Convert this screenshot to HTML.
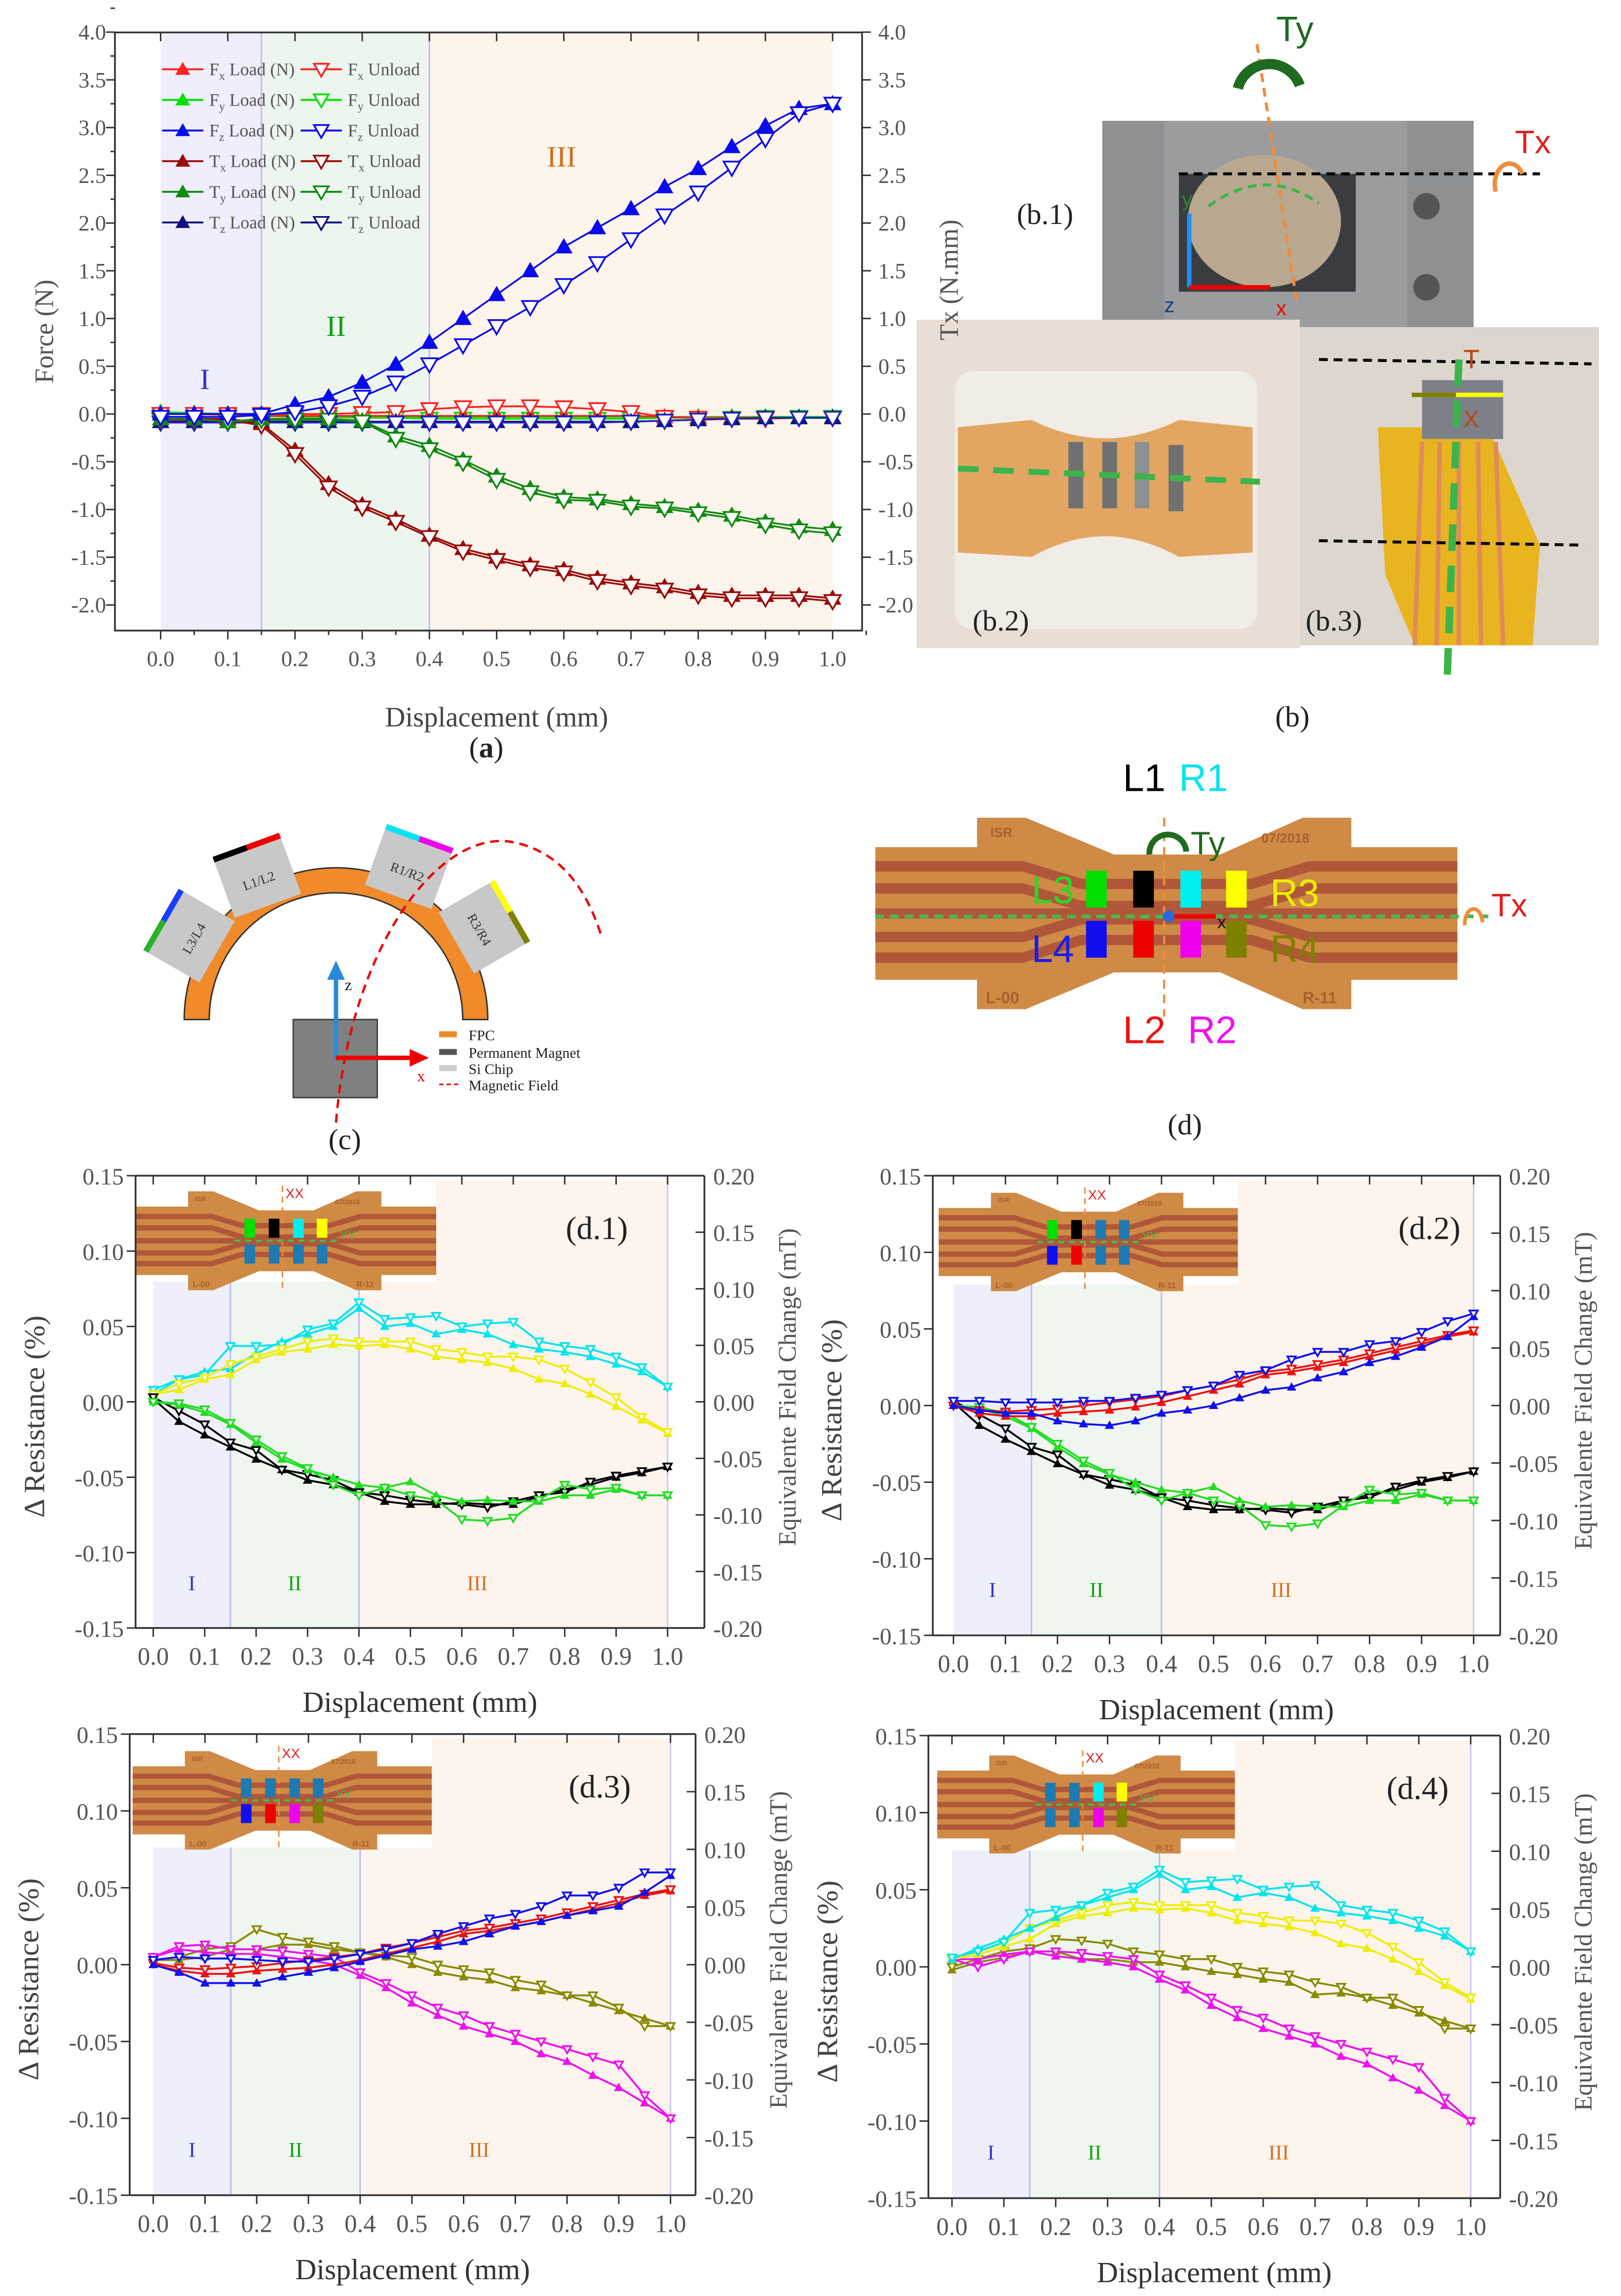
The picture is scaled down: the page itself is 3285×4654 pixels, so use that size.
<!DOCTYPE html>
<html><head><meta charset="utf-8"><title>Force and resistance figure</title>
<style>
html,body{margin:0;padding:0;background:#fff;}
svg{display:block;}
text{font-family:"Liberation Serif",serif;}
.sans{font-family:"Liberation Sans",sans-serif;}
</style></head>
<body>
<svg id="fig" xmlns="http://www.w3.org/2000/svg" width="3285" height="4654" viewBox="0 0 1100 1558.4">
<rect x="0" y="0" width="1100" height="1558.4" fill="#fff"/>

<g>
  <rect x="748" y="82" width="252" height="140" fill="#8e9092"/>
  <rect x="790" y="82" width="165" height="140" fill="#9a9c9e"/>
  <rect x="800" y="118" width="120" height="80" fill="#3a3c40"/>
  <ellipse cx="858" cy="150" rx="52" ry="45" fill="#b8a890"/>
  <circle cx="968" cy="140" r="9" fill="#555"/>
  <circle cx="968" cy="195" r="9" fill="#555"/>
  <line x1="800" y1="118" x2="1045" y2="118" stroke="#000" stroke-width="2" stroke-dasharray="6,4"/>
  <path d="M820,140 Q858,112 895,138" fill="none" stroke="#3cb44a" stroke-width="2" stroke-dasharray="6,4"/>
  <line x1="853" y1="30" x2="880" y2="205" stroke="#f08c3c" stroke-width="2" stroke-dasharray="6,4"/>
  <line x1="807" y1="195" x2="807" y2="145" stroke="#1e90ff" stroke-width="3"/>
  <line x1="807" y1="195" x2="862" y2="195" stroke="#e00" stroke-width="3"/>
  <text x="790" y="212" font-size="14" fill="#1a3c8c" class="sans">z</text>
  <text x="866" y="214" font-size="14" fill="#e00" class="sans">x</text>
  <text x="802" y="140" font-size="14" fill="#2a8a2a" class="sans">y</text>
  <path d="M840,60 A22,22 0 0 1 882,58" fill="none" stroke="#1f6b1f" stroke-width="7"/>
  <text x="866" y="28" font-size="24" fill="#1f6b1f" class="sans">Ty</text>
  <path d="M1015,130 A10,14 0 0 1 1033,118" fill="none" stroke="#f08c3c" stroke-width="3"/>
  <text x="1028" y="104" font-size="22" fill="#e02020" class="sans">Tx</text>
  <text x="690" y="152" font-size="20" fill="#222">(b.1)</text>

  <rect x="622" y="217" width="260" height="223" fill="#e8ded6"/>
  <rect x="648" y="252" width="205" height="175" rx="12" fill="#f2ece6"/>
  <path d="M650,290 L700,285 Q750,310 800,285 L850,290 L850,375 L800,378 Q750,350 700,378 L650,375 Z" fill="#e3a662"/>
  <rect x="725" y="300" width="10" height="45" fill="#6f7070"/>
  <rect x="748" y="300" width="10" height="45" fill="#6f7070"/>
  <rect x="770" y="300" width="10" height="45" fill="#8d9090"/>
  <rect x="793" y="302" width="10" height="45" fill="#6f7070"/>
  <line x1="650" y1="318" x2="855" y2="327" stroke="#3cb44a" stroke-width="4" stroke-dasharray="14,10"/>
  <text x="660" y="428" font-size="20" fill="#222">(b.2)</text>

  <rect x="882" y="222" width="203" height="216" fill="#dcd6ce"/>
  <path d="M935,290 L1010,290 L1045,370 L1040,438 L960,438 L940,390 Z" fill="#e8b420"/>
  <rect x="965" y="258" width="55" height="40" fill="#7d8088"/>
  <g stroke="#e08a5a" stroke-width="3">
    <line x1="965" y1="300" x2="960" y2="438"/><line x1="977" y1="300" x2="975" y2="438"/><line x1="990" y1="300" x2="990" y2="438"/><line x1="1003" y1="300" x2="1005" y2="438"/><line x1="1015" y1="300" x2="1020" y2="438"/>
  </g>
  <line x1="895" y1="244" x2="1080" y2="247" stroke="#000" stroke-width="2" stroke-dasharray="6,4"/>
  <line x1="895" y1="367" x2="1075" y2="370" stroke="#000" stroke-width="2" stroke-dasharray="6,4"/>
  <line x1="990" y1="244" x2="982" y2="462" stroke="#3cb44a" stroke-width="5" stroke-dasharray="18,10"/>
  <line x1="958" y1="268" x2="1020" y2="268" stroke="#ffff00" stroke-width="3"/>
  <line x1="958" y1="268" x2="988" y2="268" stroke="#7f7f00" stroke-width="3"/>
  <text x="993" y="250" font-size="18" fill="#b04a10" class="sans">T</text>
  <text x="993" y="290" font-size="16" fill="#b04a10" class="sans">X</text>
  <text x="886" y="428" font-size="20" fill="#222">(b.3)</text>
  <text x="877" y="493" font-size="20" fill="#222" text-anchor="middle">(b)</text>
</g>

<text x="330" y="514" font-size="20" fill="#222" text-anchor="middle">(<tspan font-weight="bold">a</tspan>)</text>

<g>
  <path d="M125,692 A103,103 0 0 1 331,692 L314,692 A86,86 0 0 0 142,692 Z" fill="#f08a2a" stroke="#333" stroke-width="1"/>
  <g transform="translate(130,636) rotate(-60)"><rect x="-24" y="-20" width="48" height="40" fill="#c8c8c8"/><rect x="-24" y="-24" width="24" height="4" fill="#2ab02a"/><rect x="0" y="-24" width="24" height="4" fill="#1a3cff"/><text x="0" y="5" font-size="9" text-anchor="middle" fill="#333">L3/L4</text></g>
  <g transform="translate(175,596) rotate(-20)"><rect x="-24" y="-20" width="48" height="40" fill="#c8c8c8"/><rect x="-24" y="-24" width="24" height="4" fill="#000"/><rect x="0" y="-24" width="24" height="4" fill="#e00"/><text x="0" y="5" font-size="9" text-anchor="middle" fill="#333">L1/L2</text></g>
  <g transform="translate(277,590) rotate(20)"><rect x="-24" y="-20" width="48" height="40" fill="#c8c8c8"/><rect x="-24" y="-24" width="24" height="4" fill="#00e5ee"/><rect x="0" y="-24" width="24" height="4" fill="#e0e"/><text x="0" y="5" font-size="9" text-anchor="middle" fill="#333">R1/R2</text></g>
  <g transform="translate(327,630) rotate(60)"><rect x="-24" y="-20" width="48" height="40" fill="#c8c8c8"/><rect x="-24" y="-24" width="24" height="4" fill="#ffff00"/><rect x="0" y="-24" width="24" height="4" fill="#7f7f00"/><text x="0" y="5" font-size="9" text-anchor="middle" fill="#333">R3/R4</text></g>
  <rect x="199" y="692" width="57" height="53" fill="#808080" stroke="#444"/>
  <path d="M228,762 C238,640 300,560 350,572 C385,580 400,610 408,635" fill="none" stroke="#e00" stroke-width="1.6" stroke-dasharray="6,4"/>
  <line x1="228" y1="718" x2="228" y2="662" stroke="#2a8ad8" stroke-width="3"/>
  <path d="M222,665 L228,652 L234,665 Z" fill="#2a8ad8"/>
  <text x="234" y="672" font-size="11" fill="#222">z</text>
  <line x1="228" y1="718" x2="280" y2="718" stroke="#e00" stroke-width="3"/>
  <path d="M278,712 L291,718 L278,724 Z" fill="#e00"/>
  <text x="283" y="734" font-size="11" fill="#e00">x</text>
  <g font-size="10" fill="#222">
    <rect x="298" y="700" width="12" height="4" fill="#f08a2a"/><text x="318" y="706">FPC</text>
    <rect x="298" y="712" width="12" height="4" fill="#555"/><text x="318" y="718">Permanent Magnet</text>
    <rect x="298" y="723" width="12" height="4" fill="#ccc"/><text x="318" y="729">Si Chip</text>
    <line x1="298" y1="736" x2="312" y2="736" stroke="#e00" stroke-dasharray="3,2"/><text x="318" y="740">Magnetic Field</text>
  </g>
  <text x="234" y="780" font-size="20" fill="#222" text-anchor="middle">(c)</text>
</g>

<g>
  <g id="fpcBig"></g>
  <line x1="790" y1="555" x2="790" y2="690" stroke="#f08c3c" stroke-width="1.5" stroke-dasharray="6,4"/>
  <line x1="594" y1="622" x2="1010" y2="622" stroke="#4ab84a" stroke-width="2.5" stroke-dasharray="6,4"/>
  <path d="M780,580 A12,12 0 0 1 805,578" fill="none" stroke="#1f6b1f" stroke-width="4"/>
  <text x="808" y="580" font-size="22" fill="#1f6b1f" class="sans">Ty</text>
  <path d="M994,628 A6,10 0 0 1 1006,626" fill="none" stroke="#f08c3c" stroke-width="2.5"/>
  <text x="1012" y="622" font-size="22" fill="#e02020" class="sans">Tx</text>
  <line x1="793" y1="622" x2="825" y2="622" stroke="#e00" stroke-width="3"/>
  <circle cx="793" cy="622" r="4" fill="#2a6ad8"/>
  <text x="826" y="630" font-size="12" fill="#111" class="sans">x</text>
  <text x="762" y="537" font-size="26" fill="#000" class="sans">L1</text>
  <text x="800" y="537" font-size="26" fill="#00e5ee" class="sans">R1</text>
  <text x="700" y="613" font-size="26" fill="#22dd22" class="sans">L3</text>
  <text x="700" y="653" font-size="26" fill="#1a1aee" class="sans">L4</text>
  <text x="862" y="615" font-size="26" fill="#eeee00" class="sans">R3</text>
  <text x="862" y="653" font-size="26" fill="#7f7f00" class="sans">R4</text>
  <text x="762" y="708" font-size="26" fill="#ee1111" class="sans">L2</text>
  <text x="806" y="708" font-size="26" fill="#ee11ee" class="sans">R2</text>
  <text x="804" y="770" font-size="20" fill="#222" text-anchor="middle">(d)</text>
</g>

<g id="charts"></g>
</svg>

<script>
const aX = [0,0.05,0.1,0.15,0.2,0.25,0.3,0.35,0.4,0.45,0.5,0.55,0.6,0.65,0.7,0.75,0.8,0.85,0.9,0.95,1.0];
const aFxLoad = [0,0,-0.01,-0.02,-0.02,-0.02,-0.02,-0.02,-0.02,-0.02,-0.02,-0.02,-0.02,-0.02,-0.02,-0.03,-0.04,-0.04,-0.04,-0.04,-0.04];
const aFxUnload = [0,0,0,0,0,0,0.01,0.02,0.05,0.07,0.08,0.08,0.07,0.05,0.02,-0.03,-0.04,-0.05,-0.05,-0.04,-0.04];
const aFyLoad = [0.02,0.01,0,-0.01,-0.02,-0.02,-0.03,-0.03,-0.03,-0.03,-0.03,-0.03,-0.03,-0.03,-0.03,-0.03,-0.03,-0.03,-0.03,-0.03,-0.03];
const aFyUnload = [0,0,-0.01,-0.02,-0.03,-0.03,-0.04,-0.04,-0.05,-0.05,-0.05,-0.05,-0.05,-0.05,-0.05,-0.04,-0.04,-0.04,-0.03,-0.03,-0.03];
const aFzLoad = [0,0,0,0,0.1,0.18,0.33,0.52,0.75,1.0,1.25,1.5,1.75,1.95,2.15,2.38,2.57,2.8,3.02,3.2,3.25];
const aFzUnload = [-0.03,-0.03,-0.03,-0.01,0.02,0.08,0.18,0.33,0.52,0.72,0.92,1.12,1.35,1.58,1.83,2.08,2.32,2.58,2.88,3.15,3.25];
const aTxLoad = [-0.05,-0.05,-0.05,-0.1,-0.38,-0.73,-0.95,-1.1,-1.27,-1.41,-1.5,-1.58,-1.63,-1.72,-1.77,-1.81,-1.87,-1.9,-1.9,-1.9,-1.93];
const aTxUnload = [-0.06,-0.06,-0.06,-0.12,-0.42,-0.77,-0.98,-1.13,-1.29,-1.44,-1.53,-1.61,-1.66,-1.75,-1.8,-1.84,-1.9,-1.93,-1.93,-1.93,-1.96];
const aTyLoad = [-0.05,-0.05,-0.08,-0.05,-0.05,-0.05,-0.07,-0.23,-0.33,-0.48,-0.65,-0.78,-0.87,-0.89,-0.94,-0.97,-1.01,-1.06,-1.13,-1.18,-1.21];
const aTyUnload = [-0.05,-0.05,-0.08,-0.06,-0.06,-0.06,-0.08,-0.26,-0.37,-0.51,-0.69,-0.82,-0.9,-0.91,-0.97,-0.99,-1.04,-1.09,-1.16,-1.22,-1.25];
const aTzLoad = [-0.08,-0.08,-0.08,-0.08,-0.08,-0.08,-0.08,-0.08,-0.08,-0.08,-0.08,-0.08,-0.08,-0.08,-0.08,-0.07,-0.06,-0.05,-0.04,-0.04,-0.04];
const aTzUnload = [-0.09,-0.09,-0.09,-0.09,-0.09,-0.09,-0.09,-0.09,-0.09,-0.09,-0.09,-0.09,-0.09,-0.09,-0.08,-0.07,-0.06,-0.05,-0.04,-0.04,-0.04];
const aXTicks = ['0.0','0.1','0.2','0.3','0.4','0.5','0.6','0.7','0.8','0.9','1.0'];
const aYTicks = ['-2.0','-1.5','-1.0','-0.5','0.0','0.5','1.0','1.5','2.0','2.5','3.0','3.5','4.0'];

const dX = [0,0.05,0.1,0.15,0.2,0.25,0.3,0.35,0.4,0.45,0.5,0.55,0.6,0.65,0.7,0.75,0.8,0.85,0.9,0.95,1.0];
const dXTicks = ['0.0','0.1','0.2','0.3','0.4','0.5','0.6','0.7','0.8','0.9','1.0'];
const dYTicks = ['-0.15','-0.10','-0.05','0.00','0.05','0.10','0.15'];
const dY2Ticks = ['-0.20','-0.15','-0.10','-0.05','0.00','0.05','0.10','0.15','0.20'];
const d1CyanLoad = [0.005,0.015,0.02,0.022,0.032,0.04,0.045,0.05,0.062,0.05,0.052,0.045,0.048,0.045,0.038,0.035,0.033,0.03,0.025,0.02,0.01];
const d1CyanUnload = [0.008,0.015,0.018,0.037,0.037,0.038,0.048,0.052,0.066,0.055,0.056,0.057,0.05,0.052,0.053,0.04,0.037,0.035,0.03,0.023,0.01];
const d1YellowLoad = [0.005,0.008,0.015,0.018,0.028,0.033,0.035,0.038,0.037,0.038,0.035,0.03,0.028,0.026,0.022,0.015,0.012,0.005,-0.003,-0.012,-0.021];
const d1YellowUnload = [0.005,0.012,0.016,0.025,0.03,0.035,0.04,0.042,0.04,0.04,0.04,0.035,0.033,0.03,0.03,0.028,0.022,0.013,0.003,-0.01,-0.02];
const d1BlackLoad = [0.002,-0.013,-0.022,-0.03,-0.038,-0.045,-0.052,-0.055,-0.06,-0.066,-0.068,-0.068,-0.067,-0.068,-0.068,-0.063,-0.058,-0.055,-0.05,-0.047,-0.043];
const d1BlackUnload = [0.003,-0.006,-0.015,-0.027,-0.032,-0.045,-0.048,-0.052,-0.06,-0.062,-0.065,-0.067,-0.068,-0.07,-0.066,-0.062,-0.06,-0.053,-0.049,-0.046,-0.043];
const d1GreenLoad = [0,-0.002,-0.007,-0.015,-0.027,-0.038,-0.045,-0.05,-0.055,-0.057,-0.053,-0.062,-0.066,-0.065,-0.066,-0.066,-0.062,-0.062,-0.058,-0.062,-0.062];
const d1GreenUnload = [0,-0.001,-0.005,-0.014,-0.025,-0.036,-0.044,-0.055,-0.062,-0.057,-0.062,-0.065,-0.078,-0.079,-0.077,-0.065,-0.055,-0.058,-0.057,-0.062,-0.062];
const d2BlueLoad = [0,-0.003,-0.005,-0.005,-0.01,-0.012,-0.013,-0.01,-0.005,-0.003,0,0.005,0.01,0.012,0.018,0.022,0.028,0.032,0.038,0.045,0.058];
const d2BlueUnload = [0.003,0.003,0.002,0.002,0.002,0.003,0.003,0.005,0.007,0.01,0.013,0.02,0.023,0.03,0.035,0.035,0.04,0.042,0.048,0.055,0.06];
const d2RedLoad = [0,-0.005,-0.007,-0.007,-0.005,-0.004,-0.003,-0.001,0.002,0.006,0.01,0.014,0.02,0.022,0.025,0.028,0.032,0.036,0.04,0.045,0.048];
const d2RedUnload = [0,-0.003,-0.004,-0.003,-0.002,0,0.002,0.004,0.006,0.01,0.013,0.017,0.022,0.024,0.027,0.03,0.034,0.038,0.042,0.046,0.049];
const d2BlackLoad = [0.002,-0.013,-0.022,-0.03,-0.038,-0.045,-0.052,-0.055,-0.06,-0.066,-0.068,-0.068,-0.067,-0.068,-0.068,-0.063,-0.058,-0.055,-0.05,-0.047,-0.043];
const d2BlackUnload = [0.003,-0.006,-0.015,-0.027,-0.032,-0.045,-0.048,-0.052,-0.06,-0.062,-0.065,-0.067,-0.068,-0.07,-0.066,-0.062,-0.06,-0.053,-0.049,-0.046,-0.043];
const d2GreenLoad = [0,-0.002,-0.007,-0.015,-0.027,-0.038,-0.045,-0.05,-0.055,-0.057,-0.053,-0.062,-0.066,-0.065,-0.066,-0.066,-0.062,-0.062,-0.058,-0.062,-0.062];
const d2GreenUnload = [0,-0.001,-0.005,-0.014,-0.025,-0.036,-0.044,-0.055,-0.062,-0.057,-0.062,-0.065,-0.078,-0.079,-0.077,-0.065,-0.055,-0.058,-0.057,-0.062,-0.062];
const d3BlueLoad = [0,-0.005,-0.012,-0.012,-0.012,-0.008,-0.005,-0.002,0.002,0.006,0.01,0.012,0.015,0.02,0.025,0.028,0.032,0.035,0.038,0.047,0.058];
const d3BlueUnload = [0.003,0.005,0.004,0.004,0.003,0.002,0.002,0.004,0.007,0.01,0.014,0.02,0.025,0.03,0.033,0.038,0.045,0.045,0.05,0.06,0.06];
const d3RedLoad = [0,-0.004,-0.006,-0.006,-0.004,-0.003,-0.002,0,0.003,0.007,0.011,0.015,0.02,0.022,0.025,0.028,0.032,0.036,0.04,0.045,0.048];
const d3RedUnload = [0.001,-0.002,-0.003,-0.002,-0.001,0.001,0.003,0.005,0.007,0.011,0.014,0.018,0.022,0.024,0.027,0.03,0.034,0.038,0.042,0.046,0.049];
const d3MagentaLoad = [0.005,0.01,0.008,0.007,0.007,0.005,0.003,0,-0.007,-0.015,-0.025,-0.033,-0.04,-0.045,-0.05,-0.058,-0.063,-0.072,-0.08,-0.09,-0.1];
const d3MagentaUnload = [0.005,0.012,0.013,0.01,0.01,0.009,0.007,0.005,-0.005,-0.012,-0.02,-0.028,-0.033,-0.04,-0.045,-0.05,-0.055,-0.06,-0.065,-0.085,-0.1];
const d3OliveLoad = [0.003,0.003,0.005,0.01,0.01,0.013,0.013,0.01,0.008,0.005,0,-0.005,-0.008,-0.01,-0.015,-0.017,-0.02,-0.025,-0.03,-0.035,-0.04];
const d3OliveUnload = [0.003,0.005,0.01,0.012,0.023,0.018,0.015,0.012,0.008,0.006,0.005,0,-0.003,-0.005,-0.01,-0.013,-0.02,-0.02,-0.028,-0.04,-0.04];
const d4CyanLoad = [0.005,0.012,0.018,0.025,0.032,0.04,0.045,0.05,0.06,0.05,0.052,0.045,0.048,0.045,0.038,0.035,0.033,0.03,0.025,0.02,0.01];
const d4CyanUnload = [0.006,0.01,0.016,0.035,0.037,0.04,0.048,0.052,0.063,0.055,0.056,0.057,0.05,0.052,0.053,0.04,0.037,0.035,0.03,0.023,0.01];
const d4YellowLoad = [0.005,0.008,0.013,0.018,0.028,0.033,0.035,0.038,0.037,0.038,0.035,0.03,0.028,0.026,0.022,0.015,0.012,0.005,-0.003,-0.012,-0.021];
const d4YellowUnload = [0.005,0.01,0.015,0.025,0.03,0.035,0.04,0.042,0.04,0.04,0.04,0.035,0.033,0.03,0.03,0.028,0.022,0.013,0.003,-0.01,-0.02];
const d4MagentaLoad = [0.005,0.005,0.008,0.01,0.007,0.005,0.003,0,-0.008,-0.015,-0.025,-0.033,-0.04,-0.045,-0.05,-0.058,-0.063,-0.072,-0.08,-0.09,-0.1];
const d4MagentaUnload = [0.005,0,0.005,0.01,0.01,0.009,0.007,0.005,-0.005,-0.012,-0.02,-0.028,-0.033,-0.04,-0.045,-0.05,-0.055,-0.06,-0.065,-0.085,-0.1];
const d4OliveLoad = [-0.002,0.003,0.006,0.01,0.01,0.005,0.005,0.003,0.003,0,-0.003,-0.005,-0.008,-0.01,-0.018,-0.017,-0.02,-0.025,-0.03,-0.035,-0.04];
const d4OliveUnload = [0,0.005,0.01,0.012,0.018,0.017,0.015,0.01,0.008,0.005,0.005,0,-0.003,-0.005,-0.01,-0.013,-0.02,-0.02,-0.028,-0.04,-0.04];

const NS = 'http://www.w3.org/2000/svg';
function mk(tag, attrs, parent, name, inter) {
  const e = document.createElementNS(NS, tag);
  for (const k in attrs) e.setAttribute(k, attrs[k]);
  
  
  parent.appendChild(e);
  return e;
}
function mkText(str, attrs, parent, name) {
  const t = mk('text', attrs, parent, name, false);
  t.textContent = str;
  return t;
}

function drawFPC(parent, tx, ty, s, chips, small) {
  const g = mk('g', {transform: 'translate(' + tx + ',' + ty + ') scale(' + s + ')'}, parent, 'fpc-board', false);
  const shape = '0,27 69,27 69,7 102,7 162,32 234,32 290,7 323,7 323,27 395,27 395,117 323,117 323,137 290,137 234,112 162,112 102,137 69,137 69,117 0,117';
  mk('polygon', {points: shape, fill: '#cf8a45'}, g, 'fpc-body', false);
  const ys = [40, 55, 88, 102];
  ys.forEach(function (y) {
    const inner = y < 72 ? y + 12 : y - 12;
    mk('polyline', {points: '0,' + y + ' 100,' + y + ' 140,' + inner + ' 255,' + inner + ' 295,' + y + ' 395,' + y, fill: 'none', stroke: '#b0573a', 'stroke-width': 7}, g, 'fpc-trace', false);
  });
  mk('line', {x1: 0, y1: 72, x2: 395, y2: 72, stroke: '#b0573a', 'stroke-width': 7}, g, 'fpc-trace', false);
  mkText('ISR', {x: 78, y: 20, 'font-size': 9, fill: '#a8602c', class: 'sans', 'font-weight': 'bold'}, g, 'fpc-text');
  mkText('07/2018', {x: 262, y: 24, 'font-size': 9, fill: '#a8602c', class: 'sans', 'font-weight': 'bold'}, g, 'fpc-text');
  mkText('L-00', {x: 75, y: 133, 'font-size': 11, fill: '#a8602c', class: 'sans', 'font-weight': 'bold'}, g, 'fpc-text');
  mkText('R-11', {x: 290, y: 133, 'font-size': 11, fill: '#a8602c', class: 'sans', 'font-weight': 'bold'}, g, 'fpc-text');
  const cx = [143, 175, 207, 238];
  for (let i = 0; i < 4; i++) {
    mk('rect', {x: cx[i], y: 43, width: 14, height: 25, fill: chips[i]}, g, 'sensor-chip', false);
    mk('rect', {x: cx[i], y: 77, width: 14, height: 25, fill: chips[i + 4]}, g, 'sensor-chip', false);
  }
  if (small) {
    mk('line', {x1: 193, y1: 0, x2: 193, y2: 140, stroke: '#f08c3c', 'stroke-width': 2, 'stroke-dasharray': '8,6'}, g, 'inset-orange-dash', false);
    mk('line', {x1: 130, y1: 72, x2: 265, y2: 72, stroke: '#4ab84a', 'stroke-width': 3, 'stroke-dasharray': '8,6'}, g, 'inset-green-dash', false);
    mkText('XX', {x: 197, y: 16, 'font-size': 18, fill: '#e02020', class: 'sans'}, g, 'inset-xx-label');
    mkText('YY', {x: 268, y: 70, 'font-size': 16, fill: '#4ab84a', class: 'sans'}, g, 'inset-yy-label');
  }
  return g;
}
drawFPC(document.getElementById('fpcBig'), 594, 548, 1, ['#00e000', '#000', '#00eeee', '#ffff00', '#1010ee', '#ee0000', '#ee00ee', '#7f7f00'], false);

const charts = document.getElementById('charts');

function markerPath(x, y, s, up) {
  if (up) return 'M' + x + ',' + (y - s) + 'L' + (x + s) + ',' + (y + s * 0.75) + 'L' + (x - s) + ',' + (y + s * 0.75) + 'Z';
  return 'M' + x + ',' + (y + s) + 'L' + (x + s) + ',' + (y - s * 0.75) + 'L' + (x - s) + ',' + (y - s * 0.75) + 'Z';
}
function drawSeries(g, xs, ys, sx, sy, color, up, ms, lw, name) {
  const sg = mk('g', {}, g, name, false);
  let pts = '';
  for (let i = 0; i < xs.length; i++) pts += sx(xs[i]) + ',' + sy(ys[i]) + ' ';
  mk('polyline', {points: pts, fill: 'none', stroke: color, 'stroke-width': lw}, sg, name + '-line', false);
  for (let i = 0; i < xs.length; i++) {
    mk('path', {d: markerPath(sx(xs[i]), sy(ys[i]), ms, up), fill: up ? color : '#fff', stroke: color, 'stroke-width': up ? 0.5 : 1.2}, sg, name + '-marker', false);
  }
}

(function () {
  const g = mk('g', {}, charts, 'chart-a', false);
  const L = 78, R = 585, T = 22, B = 428;
  const sx = v => 109 + v * (565 - 109);
  const sy = v => 281 - v * 64.8;
  mk('rect', {x: sx(0), y: T, width: sx(0.15) - sx(0), height: B - T, fill: '#eeeefc'}, g, 'region-i', false);
  mk('rect', {x: sx(0.15), y: T, width: sx(0.4) - sx(0.15), height: B - T, fill: '#edf6ee'}, g, 'region-ii', false);
  mk('rect', {x: sx(0.4), y: T, width: sx(1) - sx(0.4), height: B - T, fill: '#fdf4ec'}, g, 'region-iii', false);
  mk('line', {x1: sx(0.15), y1: T, x2: sx(0.15), y2: B, stroke: '#b8bcf0', 'stroke-width': 1}, g, 'region-boundary', false);
  mk('line', {x1: sx(0.4), y1: T, x2: sx(0.4), y2: B, stroke: '#b8bcf0', 'stroke-width': 1}, g, 'region-boundary', false);
  mk('rect', {x: L, y: T, width: R - L, height: B - T, fill: 'none', stroke: '#333', 'stroke-width': 1.2}, g, 'plot-frame', false);
  aXTicks.forEach(function (t) {
    const v = parseFloat(t), x = sx(v);
    mk('line', {x1: x, y1: B, x2: x, y2: B + 6, stroke: '#333'}, g, 'x-tick', false);
    mk('line', {x1: x, y1: T, x2: x, y2: T + 6, stroke: '#333'}, g, 'x-tick-top', false);
    mk('line', {x1: sx(v + 0.05), y1: B, x2: sx(v + 0.05), y2: B + 3, stroke: '#333'}, g, 'x-minor-tick', false);
    mkText(t, {x: x, y: 452, 'font-size': 15, 'text-anchor': 'middle', fill: '#555'}, g, 'x-tick-label');
  });
  aYTicks.forEach(function (t) {
    const v = parseFloat(t), y = sy(v);
    mk('line', {x1: L, y1: y, x2: L - 6, y2: y, stroke: '#333'}, g, 'y-tick', false);
    mk('line', {x1: R, y1: y, x2: R + 6, y2: y, stroke: '#333'}, g, 'y2-tick', false);
    mk('line', {x1: L, y1: sy(v + 0.25), x2: L - 3, y2: sy(v + 0.25), stroke: '#333'}, g, 'y-minor-tick', false);
    mkText(t, {x: 72, y: y + 5, 'font-size': 15, 'text-anchor': 'end', fill: '#555'}, g, 'y-tick-label');
    mkText(t, {x: 596, y: y + 5, 'font-size': 15, 'text-anchor': 'start', fill: '#555'}, g, 'y2-tick-label');
  });
  mkText('Displacement (mm)', {x: 337, y: 493, 'font-size': 19, 'text-anchor': 'middle', fill: '#444'}, g, 'x-axis-title');
  mkText('Force (N)', {x: 0, y: 0, 'font-size': 18, 'text-anchor': 'middle', fill: '#555', transform: 'translate(36,225) rotate(-90)'}, g, 'y-axis-title');
  mkText('Tx (N.mm)', {x: 0, y: 0, 'font-size': 18, 'text-anchor': 'middle', fill: '#555', transform: 'translate(650,190) rotate(-90)'}, g, 'y2-axis-title');
  mkText('I', {x: 139, y: 264, 'font-size': 20, fill: '#3030d0', 'text-anchor': 'middle'}, g, 'region-i-label');
  mkText('II', {x: 228, y: 228, 'font-size': 20, fill: '#10a010', 'text-anchor': 'middle'}, g, 'region-ii-label');
  mkText('III', {x: 381, y: 113, 'font-size': 20, fill: '#d07020', 'text-anchor': 'middle'}, g, 'region-iii-label');
  const ser = [
    [aFyLoad, '#00e000', true, 'fy-load'], [aFyUnload, '#00e000', false, 'fy-unload'],
    [aFxLoad, '#ff2020', true, 'fx-load'], [aFxUnload, '#ff2020', false, 'fx-unload'],
    [aTzLoad, '#101080', true, 'tz-load'], [aTzUnload, '#2020c0', false, 'tz-unload'],
    [aTxLoad, '#9a0a0a', true, 'tx-load'], [aTxUnload, '#9a0a0a', false, 'tx-unload'],
    [aTyLoad, '#108a10', true, 'ty-load'], [aTyUnload, '#108a10', false, 'ty-unload'],
    [aFzLoad, '#0a0aee', true, 'fz-load'], [aFzUnload, '#0a0aee', false, 'fz-unload']
  ];
  ser.forEach(s => drawSeries(g, aX, s[0], sx, sy, s[1], s[2], 5.5, 1.2, s[3]));
  const leg = [['F', 'x', '#ff2020'], ['F', 'y', '#00e000'], ['F', 'z', '#0a0aee'], ['T', 'x', '#9a0a0a'], ['T', 'y', '#108a10'], ['T', 'z', '#101080']];
  const lg = mk('g', {}, g, 'legend', false);
  leg.forEach(function (l, i) {
    const y = 47 + i * 20.8;
    mk('line', {x1: 110, y1: y, x2: 138, y2: y, stroke: l[2], 'stroke-width': 1.3}, lg, 'legend-line', false);
    mk('path', {d: markerPath(124, y, 5, true), fill: l[2]}, lg, 'legend-marker', false);
    const t1 = mkText('', {x: 142, y: y + 4, 'font-size': 12, fill: '#555'}, lg, 'legend-entry');
    t1.innerHTML = l[0] + '<tspan font-size="8" dy="3">' + l[1] + '</tspan><tspan dy="-3"> Load (N)</tspan>';
    mk('line', {x1: 204, y1: y, x2: 232, y2: y, stroke: l[2], 'stroke-width': 1.3}, lg, 'legend-line', false);
    mk('path', {d: markerPath(218, y, 5, false), fill: '#fff', stroke: l[2], 'stroke-width': 1.2}, lg, 'legend-marker', false);
    const t2 = mkText('', {x: 236, y: y + 4, 'font-size': 12, fill: '#555'}, lg, 'legend-entry');
    t2.innerHTML = l[0] + '<tspan font-size="8" dy="3">' + l[1] + '</tspan><tspan dy="-3"> Unload</tspan>';
  });
})();

function dChart(cfg) {
  const g = mk('g', {}, charts, cfg.name, false);
  const L = cfg.L, R = cfg.R, T = cfg.T, B = cfg.B;
  const sx = v => cfg.x0 + v * (cfg.x1 - cfg.x0);
  const sy = v => B - (v + 0.15) / 0.3 * (B - T);
  const sTop = cfg.insetB + 10;
  mk('rect', {x: sx(0), y: sTop, width: sx(0.15) - sx(0), height: B - sTop, fill: '#efeffc'}, g, 'region-i', false);
  mk('rect', {x: sx(0.15), y: sTop, width: sx(0.4) - sx(0.15), height: B - sTop, fill: '#eef6ef'}, g, 'region-ii', false);
  mk('rect', {x: sx(0.4), y: sTop, width: sx(1) - sx(0.4), height: B - sTop, fill: '#fdf4ee'}, g, 'region-iii', false);
  mk('rect', {x: cfg.insetR, y: T + 3, width: sx(1) - cfg.insetR, height: sTop - T - 3, fill: '#fdf4ee'}, g, 'region-iii-top', false);
  mk('line', {x1: sx(0.15), y1: sTop, x2: sx(0.15), y2: B, stroke: '#b8bcf0'}, g, 'region-boundary', false);
  mk('line', {x1: sx(0.4), y1: sTop, x2: sx(0.4), y2: B, stroke: '#b8bcf0'}, g, 'region-boundary', false);
  mk('line', {x1: sx(1), y1: T, x2: sx(1), y2: B, stroke: '#c8c8f0'}, g, 'region-boundary', false);
  drawFPC(g, cfg.insetL, cfg.insetT, (cfg.insetR - cfg.insetL) / 395, cfg.chips, true);
  mk('line', {x1: L, y1: T, x2: L, y2: B, stroke: '#333', 'stroke-width': 1.2}, g, 'y-axis', false);
  mk('line', {x1: R, y1: T, x2: R, y2: B, stroke: '#333', 'stroke-width': 1.2}, g, 'y2-axis', false);
  mk('line', {x1: L, y1: B, x2: R, y2: B, stroke: '#333', 'stroke-width': 1.2}, g, 'x-axis', false);
  mk('line', {x1: L, y1: T, x2: R, y2: T, stroke: '#333', 'stroke-width': 1.2}, g, 'top-axis', false);
  dXTicks.forEach(function (t) {
    const v = parseFloat(t), x = sx(v);
    mk('line', {x1: x, y1: B, x2: x, y2: B + 6, stroke: '#333'}, g, 'x-tick', false);
    mk('line', {x1: x, y1: T, x2: x, y2: T + 6, stroke: '#333'}, g, 'x-tick-top', false);
    mkText(t, {x: x, y: B + 25, 'font-size': 17, 'text-anchor': 'middle', fill: '#555'}, g, 'x-tick-label');
  });
  dYTicks.forEach(function (t) {
    const v = parseFloat(t), y = sy(v);
    mk('line', {x1: L, y1: y, x2: L - 6, y2: y, stroke: '#333'}, g, 'y-tick', false);
    mkText(t, {x: L - 8, y: y + 6, 'font-size': 16, 'text-anchor': 'end', fill: '#555'}, g, 'y-tick-label');
  });
  dY2Ticks.forEach(function (t) {
    const v = parseFloat(t), y = B - (v + 0.2) / 0.4 * (B - T);
    mk('line', {x1: R, y1: y, x2: R - 6, y2: y, stroke: '#333'}, g, 'y2-tick', false);
    mkText(t, {x: R + 6, y: y + 6, 'font-size': 16, 'text-anchor': 'start', fill: '#555'}, g, 'y2-tick-label');
  });
  mkText('Displacement (mm)', {x: (L + R) / 2, y: B + 57, 'font-size': 20, 'text-anchor': 'middle', fill: '#333'}, g, 'x-axis-title');
  mkText('Δ Resistance (%)', {x: 0, y: 0, 'font-size': 20, 'text-anchor': 'middle', fill: '#444', transform: 'translate(' + (L - 62) + ',' + ((T + B) / 2 + 10) + ') rotate(-90)'}, g, 'y-axis-title');
  mkText('Equivalente Field Change (mT)', {x: 0, y: 0, 'font-size': 17, 'text-anchor': 'middle', fill: '#555', transform: 'translate(' + (R + 62) + ',' + ((T + B) / 2 - 10) + ') rotate(-90)'}, g, 'y2-axis-title');
  mkText(cfg.label, {x: cfg.labelX, y: T + 43, 'font-size': 22, 'text-anchor': 'middle', fill: '#222'}, g, 'panel-label');
  const ly = sy(-0.125);
  mkText('I', {x: sx(0.075), y: ly, 'font-size': 14, 'text-anchor': 'middle', fill: '#3030d0'}, g, 'region-i-label');
  mkText('II', {x: sx(0.275), y: ly, 'font-size': 14, 'text-anchor': 'middle', fill: '#10a010'}, g, 'region-ii-label');
  mkText('III', {x: sx(0.63), y: ly, 'font-size': 14, 'text-anchor': 'middle', fill: '#d07020'}, g, 'region-iii-label');
  cfg.series.forEach(s => drawSeries(g, dX, s[0], sx, sy, s[1], s[2], 2.8, 1.3, s[3]));
}
const ST = '#1e7ab0';
dChart({name: 'chart-d1', label: '(d.1)', labelX: 405, L: 92, R: 478, T: 798, B: 1105, x0: 104, x1: 453,
  insetL: 92, insetT: 805, insetR: 296, insetB: 860,
  chips: ['#00e000', '#000', '#00eeee', '#ffff00', ST, ST, ST, ST],
  series: [[d1CyanLoad, '#00e5ee', true, 'r1-load'], [d1CyanUnload, '#00e5ee', false, 'r1-unload'],
           [d1YellowLoad, '#eeee00', true, 'r3-load'], [d1YellowUnload, '#eeee00', false, 'r3-unload'],
           [d1BlackLoad, '#000', true, 'l1-load'], [d1BlackUnload, '#000', false, 'l1-unload'],
           [d1GreenLoad, '#22dd22', true, 'l3-load'], [d1GreenUnload, '#22dd22', false, 'l3-unload']]});
dChart({name: 'chart-d2', label: '(d.2)', labelX: 970, L: 633, R: 1018, T: 798, B: 1110, x0: 647, x1: 1000,
  insetL: 637, insetT: 806, insetR: 840, insetB: 862,
  chips: ['#00e000', '#000', ST, ST, '#1010ee', '#ee0000', ST, ST],
  series: [[d2BlackLoad, '#000', true, 'l1-load'], [d2BlackUnload, '#000', false, 'l1-unload'],
           [d2GreenLoad, '#22dd22', true, 'l3-load'], [d2GreenUnload, '#22dd22', false, 'l3-unload'],
           [d2RedLoad, '#ee1111', true, 'l2-load'], [d2RedUnload, '#ee1111', false, 'l2-unload'],
           [d2BlueLoad, '#1010ee', true, 'l4-load'], [d2BlueUnload, '#1010ee', false, 'l4-unload']]});
dChart({name: 'chart-d3', label: '(d.3)', labelX: 407, L: 88, R: 472, T: 1177, B: 1490, x0: 104, x1: 455,
  insetL: 90, insetT: 1185, insetR: 293, insetB: 1244,
  chips: [ST, ST, ST, ST, '#1010ee', '#ee0000', '#ee00ee', '#7f7f00'],
  series: [[d3OliveLoad, '#8a8a00', true, 'r4-load'], [d3OliveUnload, '#8a8a00', false, 'r4-unload'],
           [d3MagentaLoad, '#ee11ee', true, 'r2-load'], [d3MagentaUnload, '#ee11ee', false, 'r2-unload'],
           [d3RedLoad, '#ee1111', true, 'l2-load'], [d3RedUnload, '#ee1111', false, 'l2-unload'],
           [d3BlueLoad, '#1010ee', true, 'l4-load'], [d3BlueUnload, '#1010ee', false, 'l4-unload']]});
dChart({name: 'chart-d4', label: '(d.4)', labelX: 962, L: 630, R: 1018, T: 1178, B: 1492, x0: 646, x1: 998,
  insetL: 636, insetT: 1188, insetR: 838, insetB: 1246,
  chips: [ST, ST, '#00eeee', '#ffff00', ST, ST, '#ee00ee', '#7f7f00'],
  series: [[d4OliveLoad, '#8a8a00', true, 'r4-load'], [d4OliveUnload, '#8a8a00', false, 'r4-unload'],
           [d4MagentaLoad, '#ee11ee', true, 'r2-load'], [d4MagentaUnload, '#ee11ee', false, 'r2-unload'],
           [d4YellowLoad, '#eeee00', true, 'r3-load'], [d4YellowUnload, '#eeee00', false, 'r3-unload'],
           [d4CyanLoad, '#00e5ee', true, 'r1-load'], [d4CyanUnload, '#00e5ee', false, 'r1-unload']]});
</script>
</body></html>
